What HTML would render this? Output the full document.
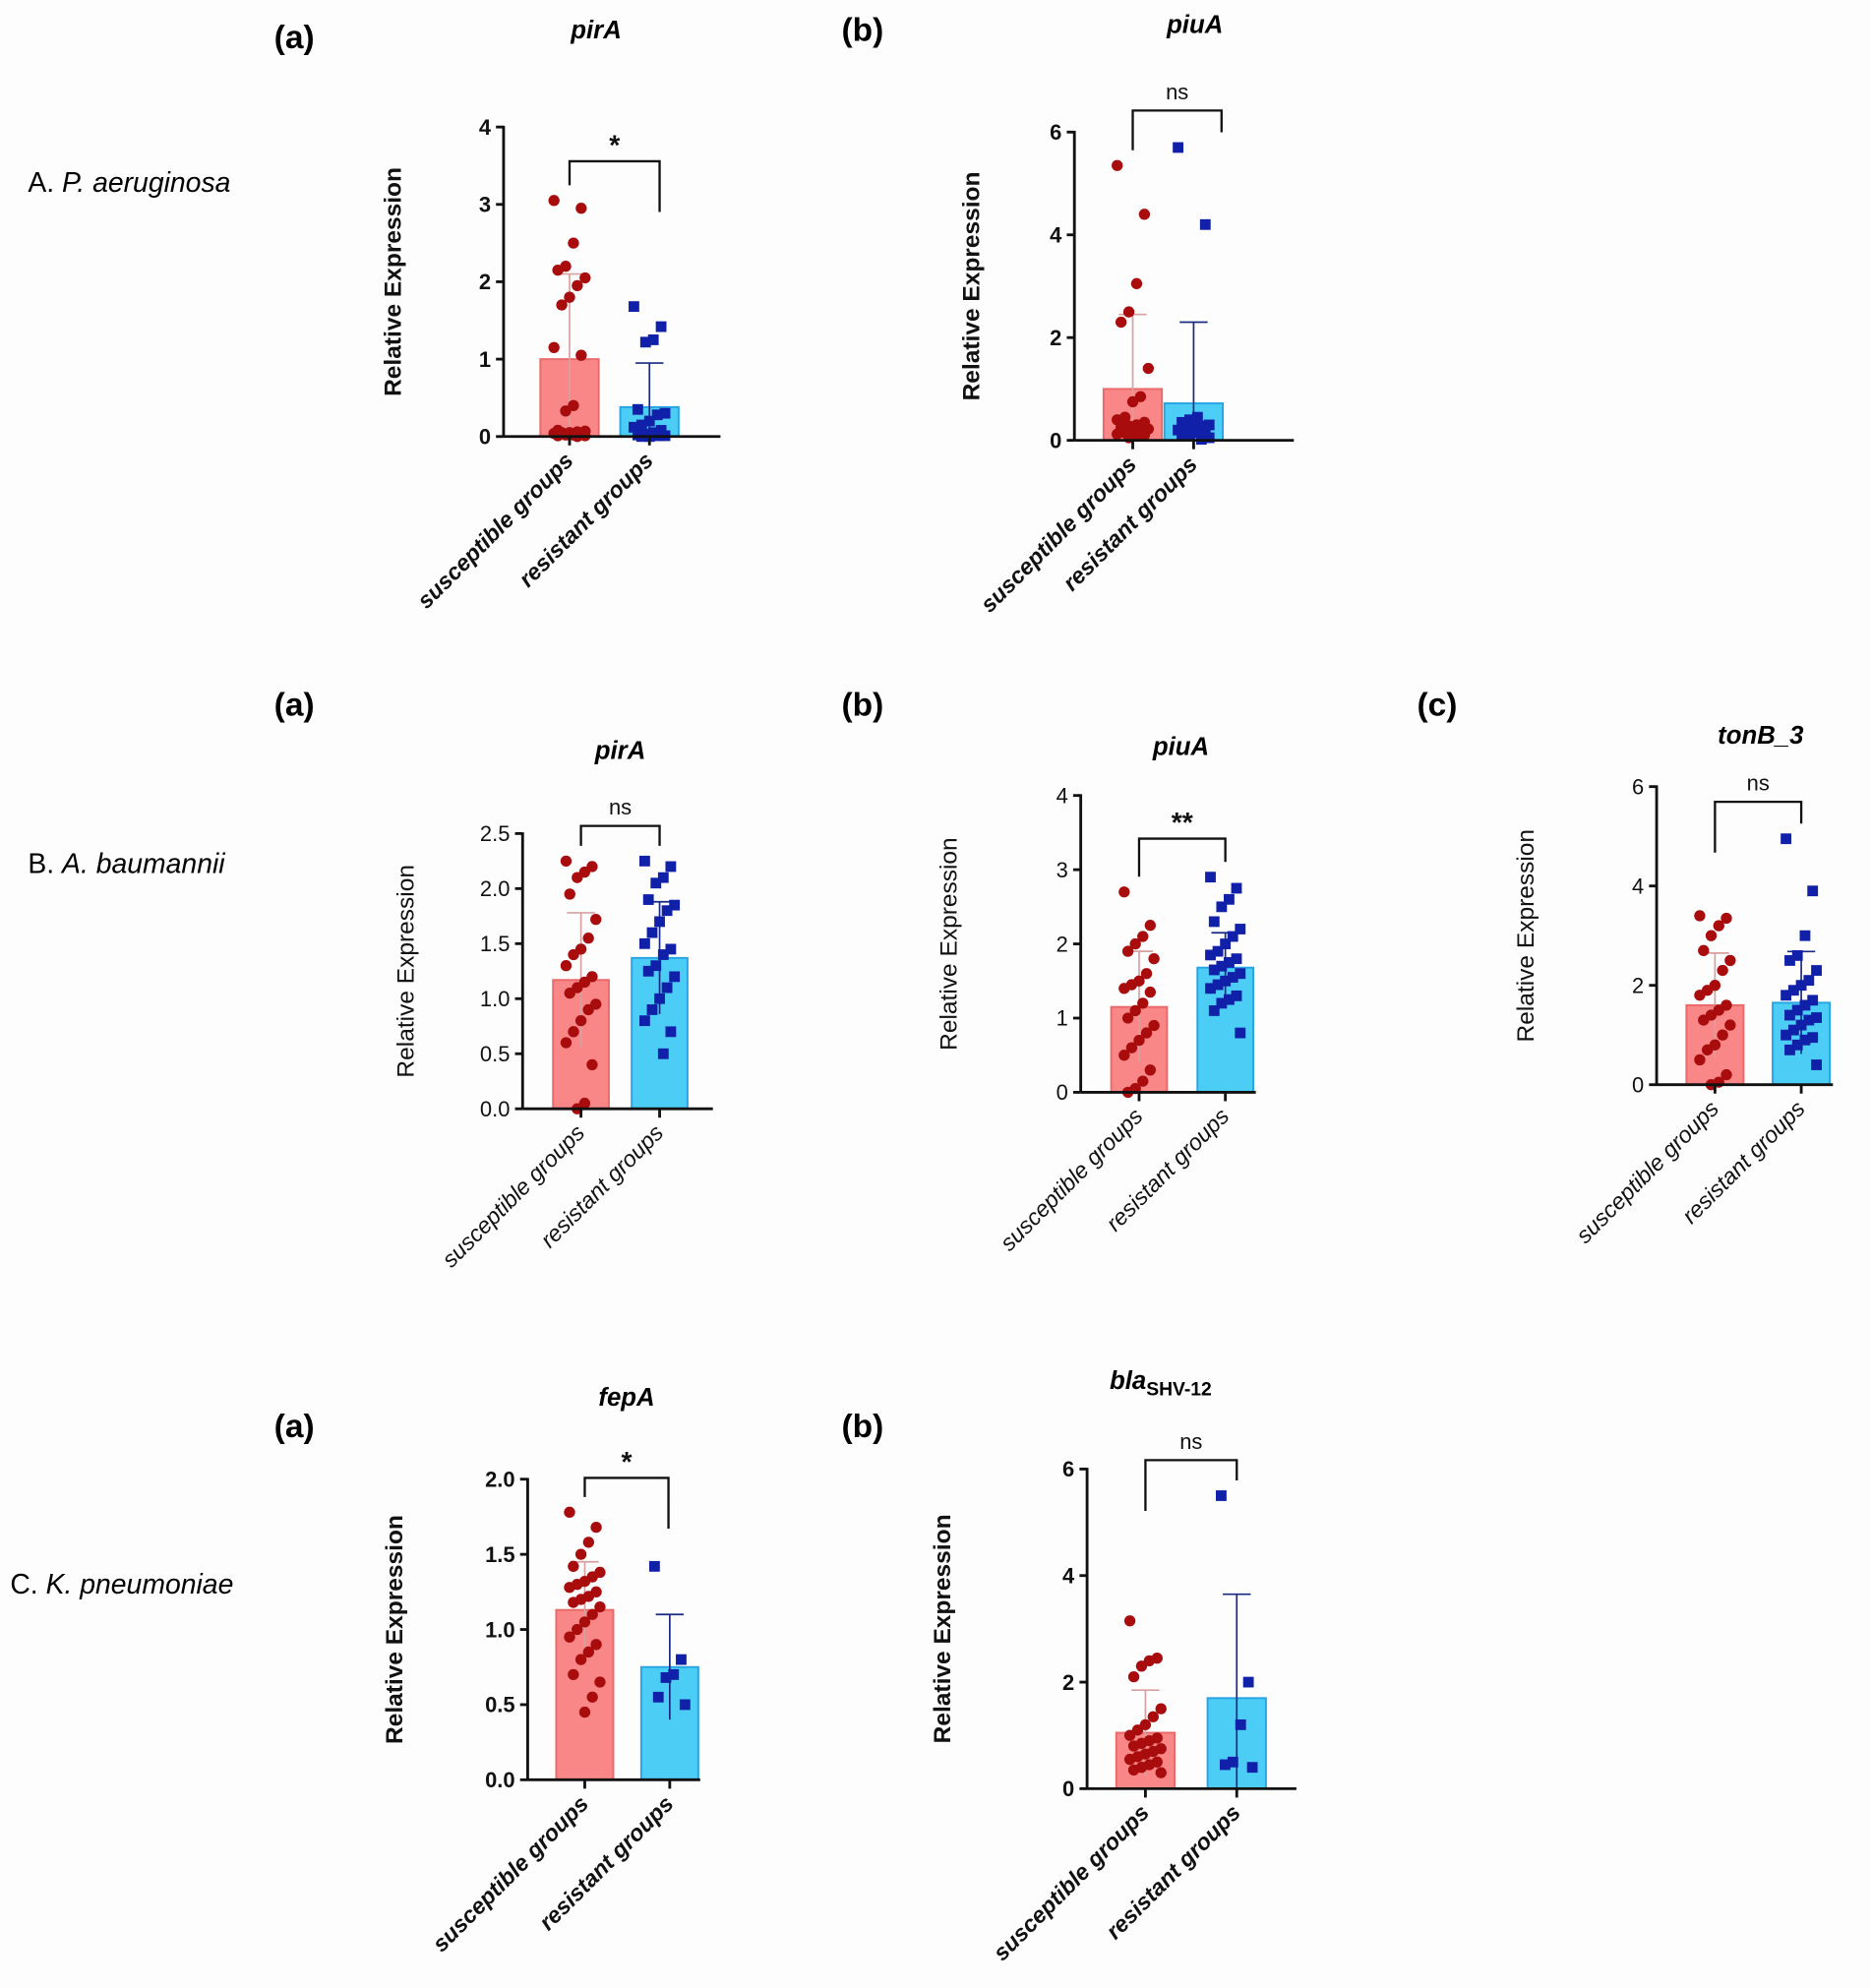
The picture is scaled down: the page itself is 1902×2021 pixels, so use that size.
<!DOCTYPE html>
<html><head><meta charset="utf-8"><style>
html,body{margin:0;padding:0;background:#fdfdfd;}
svg{display:block;}
text{font-family:"Liberation Sans",Arial,sans-serif;}
</style></head><body>
<svg id="fig" width="1902" height="2021" viewBox="0 0 1475 1567" xmlns="http://www.w3.org/2000/svg">
<rect x="0" y="0" width="1475" height="1567" fill="#fdfdfd"/>
<text x="22" y="151" font-size="22">A. <tspan font-style="italic">P. aeruginosa</tspan></text>
<text x="22" y="688" font-size="22">B. <tspan font-style="italic">A. baumannii</tspan></text>
<text x="8" y="1256" font-size="22">C. <tspan font-style="italic">K. pneumoniae</tspan></text>
</svg>
<script>
const categories = ["susceptible groups", "resistant groups"];
// A(a) pirA
const aA_susc = [3.05,2.95,2.5,2.2,2.15,2.05,1.95,1.8,1.7,1.15,1.05,0.4,0.33,0.08,0.07,0.06,0.05,0.05,0.04,0.03,0.02,0.02,0.01,0.01,0.0];
const aA_res = [1.68,1.42,1.25,1.22,0.35,0.3,0.28,0.2,0.15,0.12,0.08,0.05,0.03,0.02,0.01,0.01,0.0,0.0];
const aA_means = [1.0,0.38];
const aA_err = [2.1,0.95];
const aA_ticks = [0,1,2,3,4];
// A(b) piuA
const aB_susc = [5.35,4.4,3.05,2.5,2.3,1.4,0.85,0.75,0.45,0.4,0.35,0.3,0.28,0.25,0.22,0.2,0.18,0.15,0.12,0.1,0.08,0.05];
const aB_res = [5.7,4.2,0.45,0.4,0.35,0.3,0.28,0.25,0.22,0.2,0.18,0.15,0.12,0.1,0.05,0.02];
const aB_means = [1.0,0.72];
const aB_err = [2.45,2.3];
const aB_ticks = [0,2,4,6];
// B(a) pirA
const bA_susc = [2.25,2.2,2.15,2.1,1.95,1.72,1.55,1.45,1.4,1.3,1.2,1.15,1.1,1.05,0.95,0.9,0.8,0.7,0.6,0.4,0.05,0.0];
const bA_res = [2.25,2.2,2.1,2.05,1.9,1.85,1.8,1.7,1.6,1.5,1.45,1.4,1.3,1.25,1.2,1.1,1.0,0.9,0.8,0.7,0.5];
const bA_means = [1.17,1.37];
const bA_err = [1.78,1.88];
const bA_ticks = [0,0.5,1,1.5,2,2.5];
// B(b) piuA
const bB_susc = [2.7,2.25,2.1,2.0,1.9,1.8,1.6,1.5,1.45,1.4,1.35,1.2,1.1,1.0,0.9,0.8,0.7,0.6,0.5,0.3,0.15,0.05,0.0];
const bB_res = [2.9,2.75,2.6,2.5,2.3,2.2,2.1,2.0,1.9,1.85,1.8,1.75,1.7,1.65,1.6,1.55,1.5,1.45,1.4,1.3,1.25,1.2,1.1,0.8];
const bB_means = [1.15,1.68];
const bB_err = [1.9,2.15];
const bB_ticks = [0,1,2,3,4];
// B(c) tonB_3
const bC_susc = [3.4,3.35,3.2,3.0,2.7,2.5,2.3,2.0,1.9,1.8,1.6,1.5,1.4,1.3,1.2,1.0,0.8,0.7,0.5,0.2,0.05,0.0];
const bC_res = [4.95,3.9,3.0,2.6,2.5,2.3,2.1,2.0,1.9,1.8,1.7,1.6,1.5,1.4,1.35,1.3,1.2,1.1,1.0,0.95,0.9,0.8,0.7,0.4];
const bC_means = [1.6,1.65];
const bC_err = [2.65,2.68];
const bC_ticks = [0,2,4,6];
// C(a) fepA
const cA_susc = [1.78,1.68,1.58,1.5,1.42,1.38,1.35,1.32,1.3,1.28,1.25,1.22,1.2,1.18,1.15,1.1,1.05,1.0,0.95,0.9,0.85,0.8,0.7,0.65,0.55,0.45];
const cA_res = [1.42,0.8,0.7,0.68,0.55,0.5];
const cA_means = [1.13,0.75];
const cA_err = [1.45,1.1];
const cA_ticks = [0,0.5,1,1.5,2];
// C(b) blaSHV-12
const cB_susc = [3.15,2.45,2.4,2.3,2.1,1.5,1.35,1.2,1.1,1.0,0.95,0.9,0.85,0.8,0.75,0.7,0.65,0.6,0.55,0.5,0.45,0.4,0.35,0.3];
const cB_res = [5.5,2.0,1.2,0.5,0.45,0.4];
const cB_means = [1.05,1.7];
const cB_err = [1.85,3.65];
const cB_ticks = [0,2,4,6];

const NS = "http://www.w3.org/2000/svg";
const fig = document.getElementById('fig');
function mk(tag, attrs, parent, txt){
  const e = document.createElementNS(NS, tag);
  for (const k in attrs) e.setAttribute(k, attrs[k]);
  if (txt !== undefined) e.textContent = txt;
  (parent||fig).appendChild(e);
  return e;
}

const panels = [
 {id:'a-a', letter:'(a)', lx:232, ly:38, title:'pirA', tx:470, ty:30, ax:397, y0:344, y1:100, ymax:4, xend:568, c:[449,512], bw:46, susc:aA_susc, res:aA_res, means:aA_means, err:aA_err, ticks:aA_ticks, sig:'*', by:127, bx2:520, ylx:318, bold:true, dec:0},
 {id:'a-b', letter:'(b)', lx:680, ly:32, title:'piuA', tx:942, ty:26, ax:847, y0:347, y1:104, ymax:6, xend:1020, c:[893,941], bw:46, susc:aB_susc, res:aB_res, means:aB_means, err:aB_err, ticks:aB_ticks, sig:'ns', by:87, bx2:963, ylx:774, bold:true, dec:0},
 {id:'b-a', letter:'(a)', lx:232, ly:564, title:'pirA', tx:489, ty:598, ax:412, y0:874, y1:657, ymax:2.5, xend:562, c:[458,520], bw:44, susc:bA_susc, res:bA_res, means:bA_means, err:bA_err, ticks:bA_ticks, sig:'ns', by:651, bx2:520, ylx:328, bold:false, dec:1},
 {id:'b-b', letter:'(b)', lx:680, ly:564, title:'piuA', tx:931, ty:595, ax:852, y0:861, y1:627, ymax:4, xend:990, c:[898,966], bw:44, susc:bB_susc, res:bB_res, means:bB_means, err:bB_err, ticks:bB_ticks, sig:'**', by:661, bx2:966, ylx:756, bold:false, dec:0},
 {id:'b-c', letter:'(c)', lx:1133, ly:564, title:'tonB_3', tx:1388, ty:586, ax:1306, y0:855, y1:620, ymax:6, xend:1445, c:[1352,1420], bw:45, susc:bC_susc, res:bC_res, means:bC_means, err:bC_err, ticks:bC_ticks, sig:'ns', by:632, bx2:1420, ylx:1211, bold:false, dec:0},
 {id:'c-a', letter:'(a)', lx:232, ly:1133, title:'fepA', tx:494, ty:1108, ax:416, y0:1403, y1:1166, ymax:2, xend:552, c:[461,528], bw:45, susc:cA_susc, res:cA_res, means:cA_means, err:cA_err, ticks:cA_ticks, sig:'*', by:1165, bx2:527, ylx:319, bold:true, dec:1},
 {id:'c-b', letter:'(b)', lx:680, ly:1133, title:'bla', sub:'SHV-12', tx:915, ty:1095, ax:857, y0:1410, y1:1158, ymax:6, xend:1022, c:[903,975], bw:46, susc:cB_susc, res:cB_res, means:cB_means, err:cB_err, ticks:cB_ticks, sig:'ns', by:1151, bx2:975, ylx:751, bold:true, dec:0}
];

panels.forEach(p => {
  const g = mk('g', {});
  
  
  const Y = v => p.y0 - (v / p.ymax) * (p.y0 - p.y1);
  const fw = p.bold ? 'bold' : 'normal';

  const L = mk('text', {x:p.lx, y:p.ly, 'font-size':26, 'font-weight':'bold', 'text-anchor':'middle'}, g, p.letter);
  
  

  const T = mk('text', {x:p.tx, y:p.ty, 'font-size':20, 'font-weight':'bold', 'font-style':'italic', 'text-anchor':'middle'}, g, p.title);
  if (p.sub) { mk('tspan', {'font-size':15, 'font-style':'normal', dy:5}, T, p.sub); }
  
  

  const fills = ['#f98787', '#4ccdf5'], strokes = ['#e86a6a', '#28a4e4'];
  p.means.forEach((m, i) => {
    const b = mk('rect', {x:p.c[i]-p.bw/2, y:Y(m), width:p.bw, height:p.y0-Y(m), fill:fills[i], stroke:strokes[i], 'stroke-width':1.5}, g);
    
    
  });
  p.err.forEach((e, i) => {
    const col = i ? '#1a2a80' : '#d8a0a0';
    const eg = mk('g', {stroke:col, 'stroke-width':1.3}, g);
    
    
    mk('line', {x1:p.c[i], x2:p.c[i], y1:Y(e), y2:Y(Math.max(0, 2*p.means[i]-e))}, eg);
    mk('line', {x1:p.c[i]-11, x2:p.c[i]+11, y1:Y(e), y2:Y(e)}, eg);
  });
  [p.susc, p.res].forEach((arr, gi) => {
    arr.forEach((v, i) => {
      const off = (((i * 7) % 9) - 4) * (p.bw / 15);
      const cx = p.c[gi] + off, cy = Y(v);
      let el;
      if (gi === 0) el = mk('circle', {cx:cx, cy:cy, r:4.4, fill:'#a80c0c'}, g);
      else el = mk('rect', {x:cx-4.2, y:cy-4.2, width:8.4, height:8.4, fill:'#1020a8'}, g);
      
      
    });
  });
  const ax = mk('g', {stroke:'#111', 'stroke-width':2.2}, g);
  
  
  mk('line', {x1:p.ax, x2:p.ax, y1:p.y1-1, y2:p.y0}, ax);
  mk('line', {x1:p.ax, x2:p.xend, y1:p.y0, y2:p.y0}, ax);
  p.ticks.forEach(t => {
    mk('line', {x1:p.ax-6, x2:p.ax, y1:Y(t), y2:Y(t)}, ax);
    const tl = mk('text', {x:p.ax-10, y:Y(t)+6, 'font-size':17, 'font-weight':fw, 'text-anchor':'end', stroke:'none', fill:'#111'}, g, t.toFixed(p.dec));
    
    
  });
  p.c.forEach((cx, i) => {
    mk('line', {x1:cx, x2:cx, y1:p.y0, y2:p.y0+7}, ax);
    const cl = mk('text', {x:cx+4, y:p.y0+20, 'font-size':18, 'font-weight':fw, 'font-style':'italic', 'text-anchor':'end', transform:`rotate(-45 ${cx+4} ${p.y0+20})`, fill:'#111'}, g, categories[i]);
    
    
  });
  const ymid = (p.y0 + p.y1) / 2;
  const yl = mk('text', {x:p.ylx-2, y:ymid, 'font-size':19, 'font-weight':fw, 'text-anchor':'middle', transform:`rotate(-90 ${p.ylx-2} ${ymid})`, fill:'#111'}, g, 'Relative Expression');
  
  
  const sg = mk('g', {stroke:'#111', 'stroke-width':1.8, fill:'none'}, g);
  
  
  const lowL = Math.min(Y(Math.max(...p.susc)) - 12, p.by + 40);
  const lowR = Math.min(Y(Math.max(...p.res)) - 12, p.by + 40);
  mk('polyline', {points:`${p.c[0]},${Math.max(lowL,p.by+15)} ${p.c[0]},${p.by} ${p.bx2},${p.by} ${p.bx2},${Math.max(lowR,p.by+15)}`}, sg);
  const st = mk('text', {x:(p.c[0]+p.bx2)/2, y:p.by - (p.sig==='ns'?9:5), 'font-size':p.sig==='ns'?17:22, 'font-weight':p.sig==='ns'?'normal':'bold', 'text-anchor':'middle', fill:'#111'}, g, p.sig);
  
  
});
</script>
</body></html>
